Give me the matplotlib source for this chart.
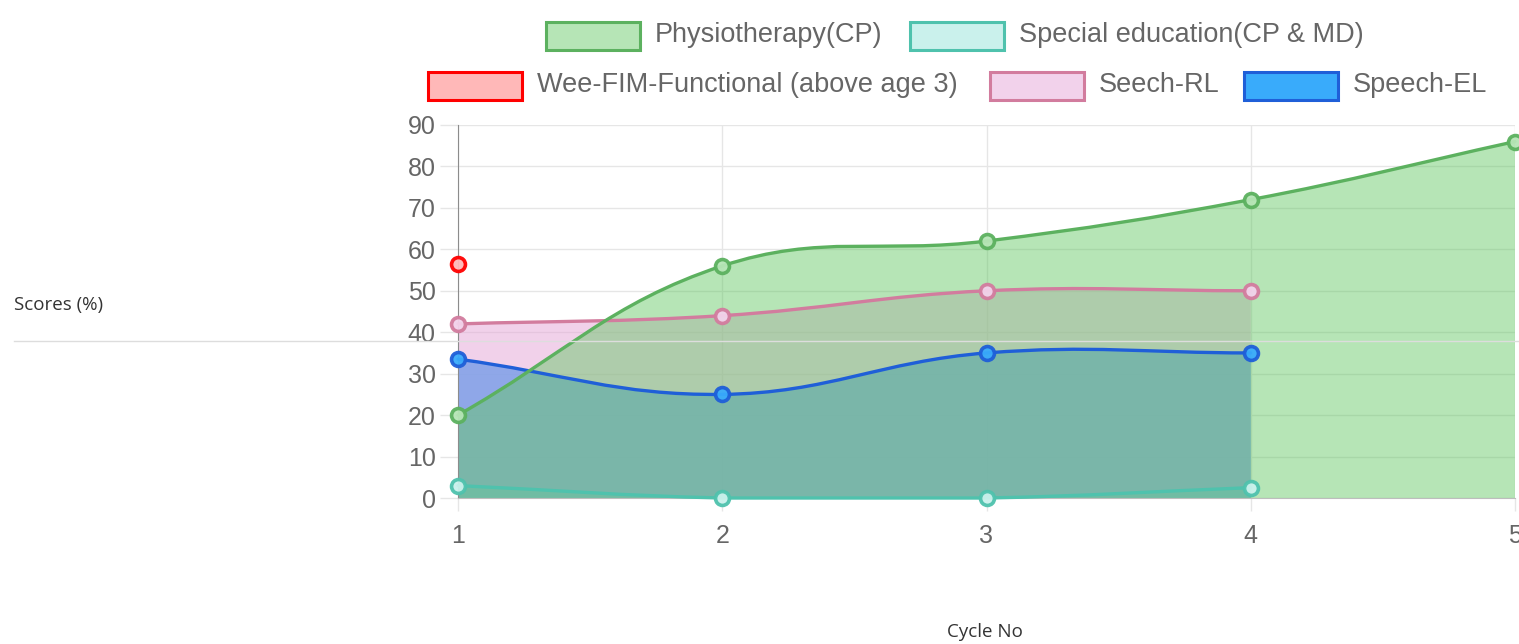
import numpy as np
import matplotlib.pyplot as plt
from matplotlib.path import Path
from matplotlib.patches import PathPatch, Rectangle
from matplotlib.lines import Line2D

# cycle numbers and scores
cycles = [1, 2, 3, 4, 5]
physio = [20, 56, 62, 72, 86]
special_ed = [3, 0, 0, 2.5]
wee_fim = [56.5]
speech_rl = [42, 44, 50, 50]
speech_el = [33.5, 25, 35, 35]

labels = ['Physiotherapy(CP)', 'Special education(CP & MD)',
          'Wee-FIM-Functional (above age 3)', 'Seech-RL', 'Speech-EL']
y_ticks = list(range(0, 91, 10))

# (line colour, fill rgb, fill alpha)
styles = [
    ('#5cb15f', (100/255, 200/255, 100/255), 0.47),
    ('#4fc2ad', (77/255, 208/255, 190/255), 0.30),
    ('#ff0000', (1.0, 0.0, 0.0), 0.28),
    ('#d27c9e', (229/255, 165/255, 215/255), 0.50),
    ('#1f5fd8', (30/255, 160/255, 250/255), 0.88),
]
series = [physio, special_ed, wee_fim, speech_rl, speech_el]

W, H = 1519, 644
fig = plt.figure(figsize=(W / 100, H / 100), dpi=100)
ax = fig.add_axes([458 / W, 146 / H, 1057 / W, 373 / H])
ax.set_xlim(1, 5)
ax.set_ylim(0, 90)

# pixel scale, used so the curve tension works like chart.js
sx = 1057 / 4
sy = 373 / 90


def spline_path(xs, ys, t=0.4):
    px = np.array(xs, float) * sx
    py = np.array(ys, float) * sy
    n = len(px)
    cps = []
    for i in range(n):
        pv = (px[max(i - 1, 0)], py[max(i - 1, 0)])
        cu = (px[i], py[i])
        nx = (px[min(i + 1, n - 1)], py[min(i + 1, n - 1)])
        d01 = np.hypot(cu[0] - pv[0], cu[1] - pv[1])
        d12 = np.hypot(nx[0] - cu[0], nx[1] - cu[1])
        tot = d01 + d12
        s01 = d01 / tot if tot else 0
        s12 = d12 / tot if tot else 0
        fa, fb = t * s01, t * s12
        c_in = (cu[0] - fa * (nx[0] - pv[0]), cu[1] - fa * (nx[1] - pv[1]))
        c_out = (cu[0] + fb * (nx[0] - pv[0]), cu[1] + fb * (nx[1] - pv[1]))
        cps.append((c_in, c_out))

    def back(p):
        x = min(max(p[0] / sx, 1), 5)
        y = min(max(p[1] / sy, 0), 90)
        return (x, y)

    verts = [(xs[0], ys[0])]
    codes = [Path.MOVETO]
    for i in range(n - 1):
        verts += [back(cps[i][1]), back(cps[i + 1][0]), (xs[i + 1], ys[i + 1])]
        codes += [Path.CURVE4] * 3
    return verts, codes


# fills first (last dataset at the bottom), then lines and points
for k in range(len(series) - 1, -1, -1):
    ys = series[k]
    xs = cycles[:len(ys)]
    lc, fc, fa = styles[k]
    if len(ys) > 1:
        verts, codes = spline_path(xs, ys)
        fv = verts + [(xs[-1], 0), (xs[0], 0), (xs[0], ys[0])]
        fcodes = codes + [Path.LINETO, Path.LINETO, Path.CLOSEPOLY]
        ax.add_patch(PathPatch(Path(fv, fcodes), facecolor=fc, alpha=fa,
                               edgecolor='none', zorder=2 + (5 - k) * 0.1))
        ax.add_patch(PathPatch(Path(verts, codes), facecolor='none',
                               edgecolor=lc, lw=2.4, zorder=5 + (5 - k) * 0.1,
                               capstyle='round', joinstyle='round',
                               clip_on=False))

for k in range(len(series) - 1, -1, -1):
    ys = series[k]
    xs = cycles[:len(ys)]
    lc, fc, fa = styles[k]
    face = tuple(1 - fa * (1 - c) for c in fc)
    ax.plot(xs, ys, ls='none', marker='o', ms=10, mew=2.6, mec=lc,
            mfc=face, alpha=0.95, zorder=8 + (5 - k) * 0.1, clip_on=False)

ax.set_xticks(cycles)
ax.set_yticks(y_ticks)
ax.grid(True, color='#e6e6e6', lw=1, zorder=0)
ax.set_axisbelow(True)
for s in ['top', 'right']:
    ax.spines[s].set_visible(False)
ax.spines['left'].set_color('#8c8c8c')
ax.spines['bottom'].set_color('#bdbdbd')
ax.tick_params(axis='y', length=13, width=1, color='#e6e6e6', pad=3,
               labelsize=18, labelcolor='#666666')
ax.tick_params(axis='x', length=9, width=1, color='#e6e6e6', pad=10,
               labelsize=18, labelcolor='#666666')
for lab in ax.get_xticklabels() + ax.get_yticklabels():
    lab.set_fontfamily('Liberation Sans')

# legend drawn by hand, two centred rows like the original
boxes = [(546, 22), (910, 22), (428, 72), (990, 72), (1244, 72)]
for k, (bx, by) in enumerate(boxes):
    lc, fc, fa = styles[k]
    face = tuple(1 - fa * (1 - c) for c in fc)
    fig.patches.append(Rectangle((bx / W, 1 - (by + 28) / H), 94 / W, 28 / H,
                                 transform=fig.transFigure, facecolor=face,
                                 edgecolor=lc, lw=2.2))
    fig.text((bx + 109) / W, 1 - (by + 13) / H, labels[k], ha='left',
             va='center', fontsize=19.5, color='#666666',
             family='Liberation Sans')

fig.text(14 / W, 1 - 305 / H, 'Scores (%)', ha='left', va='center',
         fontsize=13.5, color='#333333', family='Open Sans')
fig.text(985 / W, 1 - 632 / H, 'Cycle No', ha='center', va='center',
         fontsize=13.5, color='#333333', family='Open Sans')
fig.lines.append(Line2D([14 / W, 1], [1 - 341 / H, 1 - 341 / H],
                        transform=fig.transFigure, color='#dddddd', lw=1,
                        zorder=20))

fig.savefig('out.png', dpi=100)
